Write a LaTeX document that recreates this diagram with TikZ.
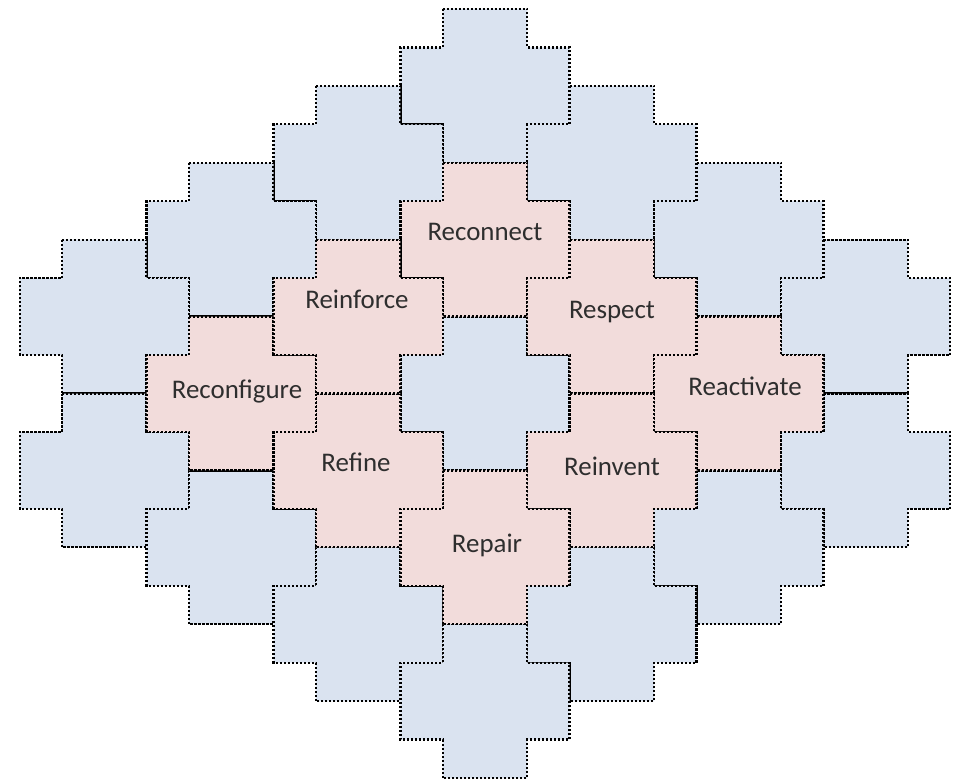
\documentclass[tikz,border=0pt]{standalone}
\usepackage{fontspec}
\setmainfont{Carlito}
\definecolor{tileblue}{HTML}{DAE3F0}
\definecolor{tilepink}{HTML}{F2DCDB}
\definecolor{txt}{HTML}{2E2E2E}
\tikzset{
  tileline/.style={draw=black, line width=2.3bp, dash pattern=on 2.1bp off 1.9bp},
  wordtext/.style={anchor=base, text=txt, font=\fontsize{27}{32}\selectfont, inner sep=0pt}
}
\newcommand\Tile[3]{\path[tileline,fill=#3,shift={(#1,#2)}] (-1,-2) -- (1,-2) -- (1,-1) -- (2,-1) -- (2,1) -- (1,1) -- (1,2) -- (-1,2) -- (-1,1) -- (-2,1) -- (-2,-1) -- (-1,-1) -- cycle;}
\begin{document}
\begin{tikzpicture}[x=1bp,y=-1bp]
\fill[white] (0,0) rectangle (960,779);
\useasboundingbox (0,0) rectangle (960,779);
\begin{scope}[shift={(485,393.5)}, x=42.3bp, y=-38.45bp]
  \foreach \u/\v in {0/0, 0/-8, 3/-6, -3/-6, 6/-4, -6/-4, 9/-2, -9/-2, 9/2, -9/2, 6/4, -6/4, 3/6, -3/6, 0/8}
    {\Tile{\u}{\v}{tileblue}}
  \foreach \u/\v in {0/-4, 3/-2, 6/0, 3/2, 0/4, -3/2, -6/0, -3/-2}
    {\Tile{\u}{\v}{tilepink}}
\end{scope}
\node[wordtext] (reconnect) at (485,240) {Reconnect};
\node[wordtext] (reinforce) at (357,308) {Reinforce};
\node[wordtext] (respect) at (612,318) {Respect};
\node[wordtext] (reconfigure) at (237,398) {Reconfigure};
\node[wordtext] (reactivate) at (745,395) {Reactivate};
\node[wordtext] (refine) at (356,471) {Refine};
\node[wordtext] (reinvent) at (612,475) {Reinvent};
\node[wordtext] (repair) at (487,552) {Repair};
\end{tikzpicture}
\end{document}
